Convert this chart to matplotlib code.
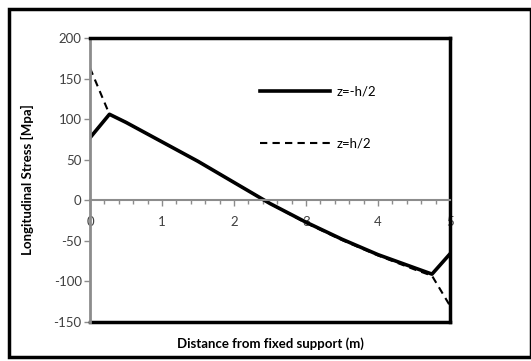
import matplotlib.pyplot as plt
from matplotlib.lines import Line2D
from matplotlib.patches import Rectangle
from matplotlib.ticker import MultipleLocator

plt.rcParams['font.family'] = ['Lato', 'DejaVu Sans']
plt.rcParams['axes.unicode_minus'] = False

# Data
distance = [0, 0.27, 0.5, 1.0, 1.5, 2.0, 2.5, 3.0, 3.5, 4.0, 4.5, 4.75, 5.0]
stress_bottom = [77, 106, 96, 72, 48, 22, -4, -27, -48, -67, -83, -91, -66]   # z=-h/2
stress_top = [163, 106, 96, 72, 48, 22, -4, -28, -49, -68, -85, -93, -130]    # z=h/2

fig = plt.figure(figsize=(5.31, 3.61), dpi=100)
ax = fig.add_axes([90 / 531, 1 - 322 / 361, 360 / 531, 284 / 361])

ax.plot(distance, stress_bottom, color='black', lw=2.6, label='z=-h/2')
ax.plot(distance, stress_top, color='black', lw=1.5, ls=(0, (3.5, 2.5)), label='z=h/2')

ax.set_xlim(0, 5)
ax.set_ylim(-150, 200)

# x axis sits on y=0, grey like Excel
ax.spines['bottom'].set_position(('data', 0))
ax.spines['bottom'].set_color('#8c8c8c')
ax.spines['bottom'].set_linewidth(1.5)
ax.spines['left'].set_color('#8c8c8c')
ax.spines['left'].set_linewidth(2)
for s in ['top', 'right']:
    ax.spines[s].set_color('black')
    ax.spines[s].set_linewidth(2.5)
# bottom edge of plot box
ax.add_line(Line2D([0, 1], [0, 0], transform=ax.transAxes, color='black',
                   lw=2.5, clip_on=False))

ax.xaxis.set_major_locator(MultipleLocator(1))
ax.xaxis.set_minor_locator(MultipleLocator(0.2))
ax.yaxis.set_major_locator(MultipleLocator(50))
ax.tick_params(axis='x', which='both', direction='out', color='#8c8c8c',
               labelsize=9.5, labelcolor='#404040', pad=7)
ax.tick_params(axis='x', which='major', length=4, width=1)
ax.tick_params(axis='x', which='minor', length=3, width=1)
ax.tick_params(axis='y', direction='out', color='#8c8c8c', length=4, width=1,
               labelsize=9.5, labelcolor='#404040', pad=2)

ax.set_xlabel('Distance from fixed support (m)', fontsize=9.5, fontweight='bold')
ax.xaxis.set_label_coords(0.5, -0.055)
ax.set_ylabel('Longitudinal Stress [Mpa]', fontsize=9.5, fontweight='bold')
ax.yaxis.set_label_coords(-0.155, 0.5)

ax.legend(loc='upper left', bbox_to_anchor=(0.458, 0.85), frameon=False,
          borderaxespad=0, fontsize=9.5, handlelength=5.3, labelspacing=3.0,
          handletextpad=0.5)

# outer chart frame
fig.add_artist(Rectangle((9 / 531, 1 - 357 / 361), 522 / 531, 348 / 361,
                         transform=fig.transFigure, fill=False,
                         edgecolor='black', lw=2.5))

fig.savefig('out.png', dpi=100)
